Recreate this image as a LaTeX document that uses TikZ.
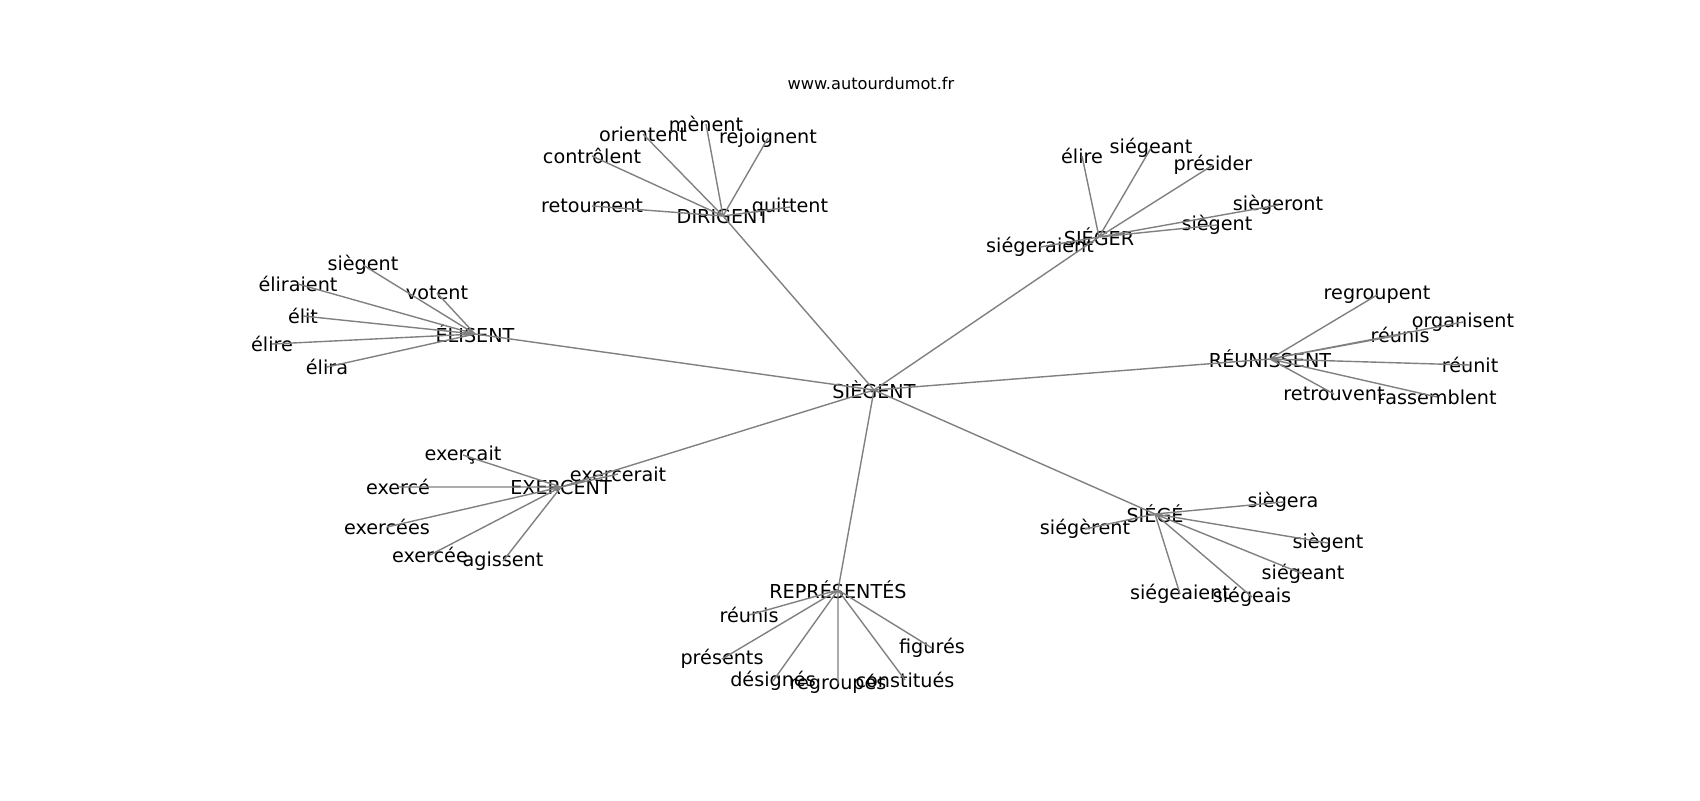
\documentclass[tikz,border=0pt]{standalone}
\usepackage{fontspec}
\setmainfont{DejaVu Sans}
\tikzset{
	mot/.style={font=\fontsize{9.6}{11}\selectfont,inner sep=0pt},
	lien/.style={gray,line width=0.7pt}
}

\begin{document}
\begin{tikzpicture}[x=0.5pt,y=-0.5pt]
				\useasboundingbox (0,0) rectangle (1700,800);
				% Titre
				\node [font=\fontsize{8.1}{10}\selectfont,inner sep=0pt] (titre) at (871,83) {www.autourdumot.fr};
				% Centre
				\node [mot] (siegent) at (874,390) {SIÈGENT};
				% DIRIGENT
				\node [mot] (dir) at (723,216) {DIRIGENT};
				\node [mot] (dirMenent) at (706,124) {mènent};
				\node [mot] (dirOrientent) at (643,134) {orientent};
				\node [mot] (dirRejoignent) at (768,138) {rejoignent};
				\node [mot] (dirControlent) at (592,156) {contrôlent};
				\node [mot] (dirRetournent) at (592,206) {retournent};
				\node [mot] (dirQuittent) at (790,207) {quittent};
				% SIÉGER
				\node [mot] (sgr) at (1099,237) {SIÉGER};
				\node [mot] (sgrElire) at (1082,156) {élire};
				\node [mot] (sgrSiegeant) at (1151,148) {siégeant};
				\node [mot] (sgrPresider) at (1213,165) {présider};
				\node [mot] (sgrSiegeront) at (1278,205) {siègeront};
				\node [mot] (sgrSiegent) at (1217,225) {siègent};
				\node [mot] (sgrSiegeraient) at (1040,247) {siégeraient};
				% ÉLISENT
				\node [mot] (eli) at (475,334) {ÉLISENT};
				\node [mot] (eliSiegent) at (363,265) {siègent};
				\node [mot] (eliEliraient) at (298,284) {éliraient};
				\node [mot] (eliVotent) at (437,293) {votent};
				\node [mot] (eliElit) at (303,316) {élit};
				\node [mot] (eliElire) at (272,344) {élire};
				\node [mot] (eliElira) at (327,367) {élira};
				% RÉUNISSENT
				\node [mot] (reu) at (1270,359) {RÉUNISSENT};
				\node [mot] (reuRegroupent) at (1377,295) {regroupent};
				\node [mot] (reuOrganisent) at (1463,322) {organisent};
				\node [mot] (reuReunis) at (1400,335) {réunis};
				\node [mot] (reuReunit) at (1470,365) {réunit};
				\node [mot] (reuRetrouvent) at (1334,394) {retrouvent};
				\node [mot] (reuRassemblent) at (1437,397) {rassemblent};
				% EXERCENT
				\node [mot] (exe) at (561,487) {EXERCENT};
				\node [mot] (exeExercait) at (463,455) {exerçait};
				\node [mot] (exeExercerait) at (618,474) {exercerait};
				\node [mot] (exeExerce) at (398,487) {exercé};
				\node [mot] (exeExercees) at (387,527) {exercées};
				\node [mot] (exeExercee) at (430,555) {exercée};
				\node [mot] (exeAgissent) at (503,561) {agissent};
				% SIÉGÉ
				\node [mot] (sge) at (1155,514) {SIÉGÉ};
				\node [mot] (sgeSiegera) at (1283,502) {siègera};
				\node [mot] (sgeSiegerent) at (1085,529) {siégèrent};
				\node [mot] (sgeSiegent) at (1328,543) {siègent};
				\node [mot] (sgeSiegeant) at (1303,574) {siégeant};
				\node [mot] (sgeSiegeaient) at (1180,594) {siégeaient};
				\node [mot] (sgeSiegeais) at (1252,597) {siégeais};
				% REPRÉSENTÉS
				\node [mot] (rep) at (838,590) {REPRÉSENTÉS};
				\node [mot] (repReunis) at (749,615) {réunis};
				\node [mot] (repPresents) at (722,659) {présents};
				\node [mot] (repFigures) at (932,648) {figurés};
				\node [mot] (repDesignes) at (773,681) {désignés};
				\node [mot] (repRegroupes) at (838,684) {regroupés};
				\node [mot] (repConstitues) at (905,680) {constitués};
				% Liens
				\draw [lien] (siegent.center) -- (dir.center) (siegent.center) -- (sgr.center) (siegent.center) -- (eli.center) (siegent.center) -- (reu.center) (siegent.center) -- (exe.center) (siegent.center) -- (sge.center) (siegent.center) -- (rep.center);
				\draw [lien] (dir.center) -- (dirMenent.center) (dir.center) -- (dirOrientent.center) (dir.center) -- (dirRejoignent.center) (dir.center) -- (dirControlent.center) (dir.center) -- (dirRetournent.center) (dir.center) -- (dirQuittent.center);
				\draw [lien] (sgr.center) -- (sgrElire.center) (sgr.center) -- (sgrSiegeant.center) (sgr.center) -- (sgrPresider.center) (sgr.center) -- (sgrSiegeront.center) (sgr.center) -- (sgrSiegent.center) (sgr.center) -- (sgrSiegeraient.center);
				\draw [lien] (eli.center) -- (eliSiegent.center) (eli.center) -- (eliEliraient.center) (eli.center) -- (eliVotent.center) (eli.center) -- (eliElit.center) (eli.center) -- (eliElire.center) (eli.center) -- (eliElira.center);
				\draw [lien] (reu.center) -- (reuRegroupent.center) (reu.center) -- (reuOrganisent.center) (reu.center) -- (reuReunis.center) (reu.center) -- (reuReunit.center) (reu.center) -- (reuRetrouvent.center) (reu.center) -- (reuRassemblent.center);
				\draw [lien] (exe.center) -- (exeExercait.center) (exe.center) -- (exeExercerait.center) (exe.center) -- (exeExerce.center) (exe.center) -- (exeExercees.center) (exe.center) -- (exeExercee.center) (exe.center) -- (exeAgissent.center);
				\draw [lien] (sge.center) -- (sgeSiegera.center) (sge.center) -- (sgeSiegerent.center) (sge.center) -- (sgeSiegent.center) (sge.center) -- (sgeSiegeant.center) (sge.center) -- (sgeSiegeaient.center) (sge.center) -- (sgeSiegeais.center);
				\draw [lien] (rep.center) -- (repReunis.center) (rep.center) -- (repPresents.center) (rep.center) -- (repFigures.center) (rep.center) -- (repDesignes.center) (rep.center) -- (repRegroupes.center) (rep.center) -- (repConstitues.center);
\end{tikzpicture}
\end{document}
